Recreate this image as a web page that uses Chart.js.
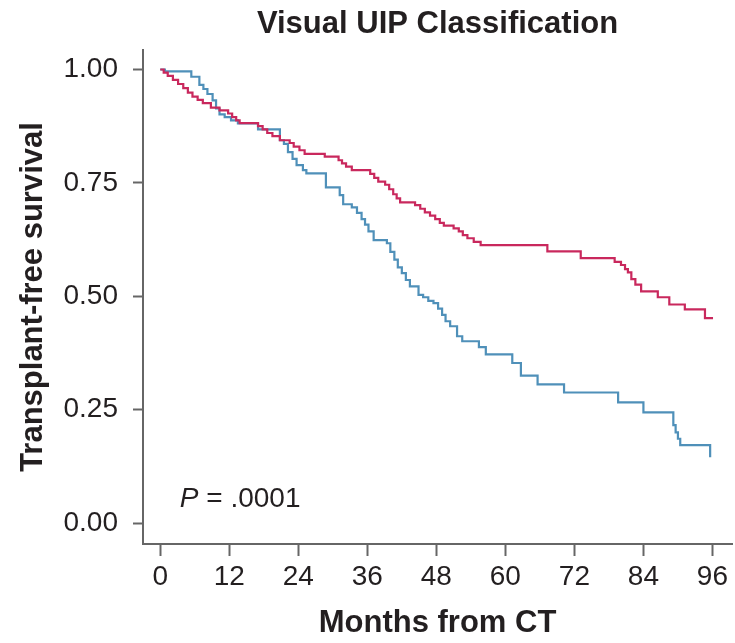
<!DOCTYPE html>
<html>
<head>
<meta charset="utf-8">
<script src="https://cdn.jsdelivr.net/npm/chart.js@4.4.1/dist/chart.umd.min.js"></script>
<style>
  html, body { margin: 0; padding: 0; background: #fff; }
  #wrap { width: 735px; height: 643px; }
</style>
</head>
<body>
<div id="wrap"><canvas id="kmChart" width="735" height="643"></canvas></div>
<script>
// Kaplan-Meier steps: month of each drop and survival after it
const nonUipMonths = [0, 0.6, 1.3, 2.2, 3.1, 4.0, 4.8, 5.6, 6.5, 7.4, 8.8, 10.3, 11.8, 12.5, 13.2, 13.8,
  17.0, 17.8, 18.6, 19.5, 20.8, 22.5, 23.2, 24.2, 25.1, 28.6, 31.0, 31.6, 32.3, 33.3, 36.5, 37.2,
  37.9, 39.1, 39.8, 40.5, 41.1, 41.7, 44.3, 45.2, 46.0, 46.9, 47.8, 48.6, 49.3, 51.0, 51.9, 52.6,
  53.4, 54.5, 55.7, 67.3, 73.1, 79.0, 80.1, 80.8, 81.3, 81.9, 82.6, 83.6, 86.5, 88.5, 91.2, 94.7, 96.1];
const nonUipSurv = [1.00, 0.993, 0.986, 0.977, 0.968, 0.959, 0.949, 0.940, 0.933, 0.926, 0.916, 0.910, 0.903, 0.895, 0.888, 0.882,
  0.875, 0.868, 0.860, 0.853, 0.844, 0.838, 0.830, 0.822, 0.814, 0.808, 0.800, 0.793, 0.786, 0.778, 0.770, 0.761,
  0.753, 0.746, 0.736, 0.725, 0.716, 0.707, 0.701, 0.693, 0.685, 0.678, 0.670, 0.662, 0.656, 0.650, 0.643, 0.635,
  0.628, 0.620, 0.613, 0.599, 0.584, 0.576, 0.569, 0.560, 0.553, 0.538, 0.526, 0.511, 0.498, 0.482, 0.471, 0.452, 0.452];

const uipMonths = [0, 0.8, 5.4, 6.8, 7.5, 8.2, 9.1, 9.7, 10.3, 11.2, 12.3, 13.5, 17.0, 20.8, 21.5, 22.2,
  23.0, 23.7, 24.8, 25.4, 28.8, 31.2, 31.8, 33.3, 34.2, 35.0, 35.6, 36.2, 37.1, 39.4, 40.0, 40.7,
  41.3, 42.0, 42.7, 43.4, 44.9, 45.7, 46.6, 47.5, 48.3, 49.0, 49.6, 50.4, 51.6, 52.5, 55.4, 56.6,
  61.2, 62.7, 65.6, 70.2, 79.6, 84.0, 89.2, 89.6, 90.0, 90.4, 95.6, 95.6];
const uipSurv = [1.00, 0.996, 0.984, 0.966, 0.957, 0.946, 0.932, 0.914, 0.901, 0.895, 0.888, 0.881, 0.868, 0.844, 0.836, 0.818,
  0.803, 0.789, 0.778, 0.771, 0.740, 0.723, 0.703, 0.696, 0.684, 0.670, 0.658, 0.643, 0.624, 0.617, 0.598, 0.581,
  0.564, 0.551, 0.536, 0.522, 0.503, 0.498, 0.490, 0.485, 0.473, 0.459, 0.445, 0.434, 0.412, 0.401, 0.388, 0.372,
  0.353, 0.325, 0.306, 0.288, 0.266, 0.244, 0.216, 0.200, 0.186, 0.172, 0.172, 0.145];

const xTickValues = [0, 12, 24, 36, 48, 60, 72, 84, 96];
const yTickValues = [0, 0.25, 0.5, 0.75, 1.0];

const toPoints = (xs, ys) => xs.map((x, i) => ({ x: x, y: ys[i] }));

const textColor = '#231f20';
const axisColor = '#666666';

// title over the plot area and the p-value note
const extraText = {
  id: 'extraText',
  afterDraw(chart) {
    const { ctx, chartArea, scales } = chart;
    ctx.save();
    ctx.fillStyle = textColor;
    ctx.textBaseline = 'alphabetic';
    ctx.textAlign = 'center';
    ctx.font = 'bold 31px "Liberation Sans", Arial, sans-serif';
    ctx.fillText('Visual UIP Classification', (chartArea.left + chartArea.right) / 2, 33);

    const px = scales.x.getPixelForValue(3.4);
    const py = scales.y.getPixelForValue(0.035);
    ctx.textAlign = 'left';
    ctx.font = 'italic 28px "Liberation Sans", Arial, sans-serif';
    ctx.fillText('P', px, py);
    const w = ctx.measureText('P').width;
    ctx.font = '28px "Liberation Sans", Arial, sans-serif';
    ctx.fillText(' = .0001', px + w, py);
    ctx.restore();
  }
};

const ctx = document.getElementById('kmChart').getContext('2d');
new Chart(ctx, {
  type: 'line',
  data: {
    datasets: [{
      label: 'Non-UIP',
      data: toPoints(nonUipMonths, nonUipSurv),
      borderColor: '#c9285d',
      borderWidth: 2.2,
      stepped: true,
      pointRadius: 0,
      fill: false
    }, {
      label: 'UIP',
      data: toPoints(uipMonths, uipSurv),
      borderColor: '#4f90b9',
      borderWidth: 2.2,
      stepped: true,
      pointRadius: 0,
      fill: false
    }]
  },
  options: {
    responsive: false,
    animation: false,
    layout: { padding: { top: 50, right: 3, bottom: 0, left: 0 } },
    plugins: {
      legend: { display: false },
      tooltip: { enabled: false }
    },
    scales: {
      x: {
        type: 'linear',
        min: -3,
        max: 99.4,
        afterBuildTicks: scale => { scale.ticks = xTickValues.map(v => ({ value: v })); },
        afterFit: scale => { scale.height = 99; },
        border: { display: true, color: axisColor, width: 2 },
        grid: { drawOnChartArea: false, drawTicks: true, tickLength: 12, tickColor: axisColor, tickWidth: 2 },
        ticks: {
          padding: 4,
          color: textColor,
          maxRotation: 0,
          font: { family: '"Liberation Sans", Arial, sans-serif', size: 28 }
        },
        title: {
          display: true,
          text: 'Months from CT',
          color: textColor,
          padding: { top: 0, bottom: 1 },
          font: { family: '"Liberation Sans", Arial, sans-serif', size: 31, weight: 'bold' }
        }
      },
      y: {
        type: 'linear',
        min: -0.046,
        max: 1.043,
        afterBuildTicks: scale => { scale.ticks = yTickValues.map(v => ({ value: v })); },
        afterFit: scale => { scale.width = 143; },
        border: { display: true, color: axisColor, width: 2 },
        grid: { drawOnChartArea: false, drawTicks: true, tickLength: 10, tickColor: axisColor, tickWidth: 2 },
        ticks: {
          padding: 15,
          color: textColor,
          font: { family: '"Liberation Sans", Arial, sans-serif', size: 28 },
          callback: v => Number(v).toFixed(2)
        },
        title: {
          display: true,
          text: 'Transplant-free survival',
          color: textColor,
          padding: { top: 15, bottom: 0 },
          font: { family: '"Liberation Sans", Arial, sans-serif', size: 31, weight: 'bold' }
        }
      }
    }
  },
  plugins: [extraText]
});
</script>
</body>
</html>
